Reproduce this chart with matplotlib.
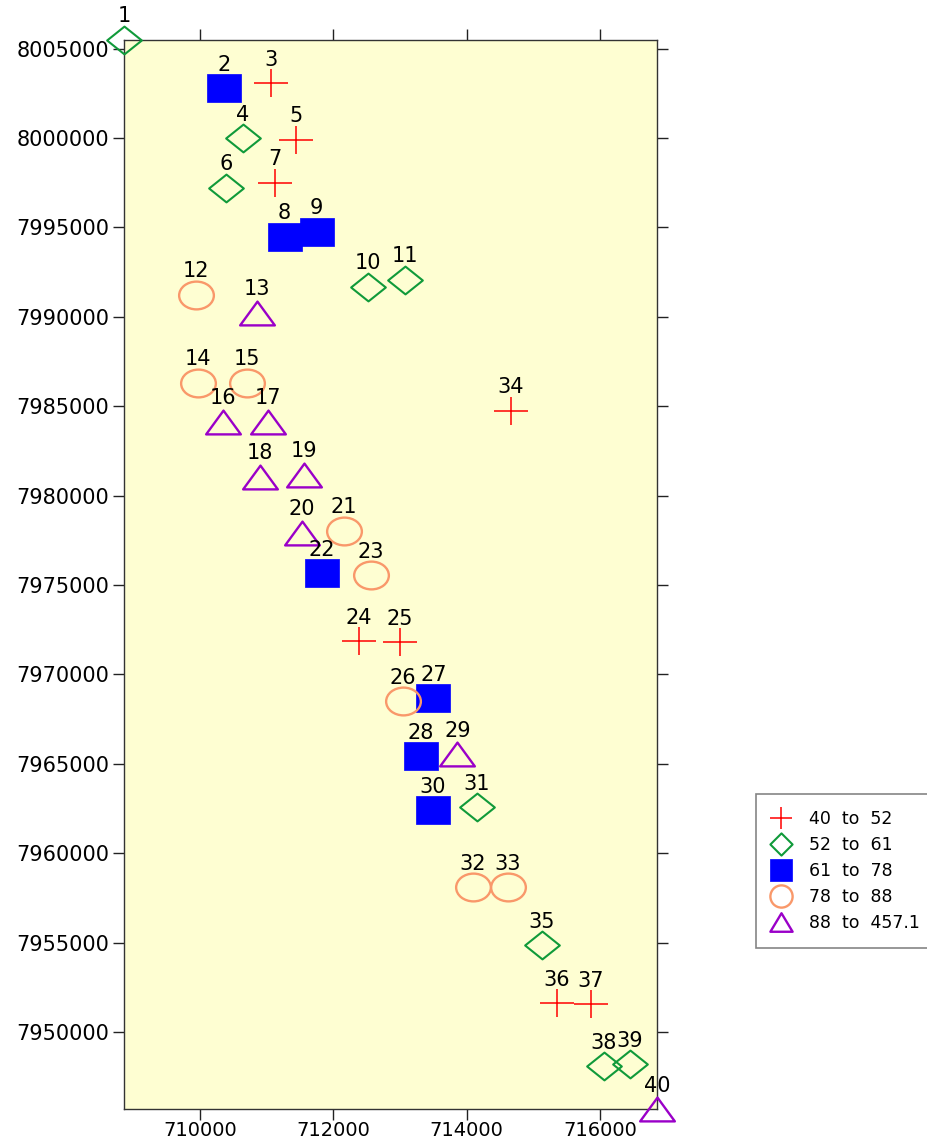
import matplotlib.pyplot as plt
import numpy as np
from matplotlib.path import Path
from matplotlib.transforms import Affine2D
from matplotlib.lines import Line2D

# Coordenadas de los puntos (UTM) y clase de cada uno
este = [708870, 710370, 711060, 710640, 711440, 710400, 711120, 711270, 711750, 712520,
        713070, 709940, 710850, 709970, 710700, 710350, 711020, 710900, 711560, 711530,
        712160, 711830, 712560, 712380, 713000, 713040, 713500, 713310, 713860, 713490,
        714150, 714090, 714610, 714660, 715120, 715350, 715860, 716050, 716440, 716850]
norte = [8005500, 8002800, 8003080, 8000010, 7999900, 7997220, 7997500, 7994480, 7994760, 7991690,
         7992080, 7991240, 7990230, 7986320, 7986320, 7984140, 7984140, 7981070, 7981180, 7977940,
         7978050, 7975650, 7975540, 7971850, 7971800, 7968500, 7968670, 7965430, 7965540, 7962410,
         7962580, 7958110, 7958110, 7984760, 7954870, 7951630, 7951570, 7948110, 7948220, 7945700]
clase = [1, 2, 0, 1, 0, 1, 0, 2, 2, 1,
         1, 3, 4, 3, 3, 4, 4, 4, 4, 4,
         3, 2, 3, 0, 0, 3, 2, 2, 4, 2,
         1, 3, 3, 0, 1, 0, 0, 1, 1, 4]
rangos = ['40  to  52', '52  to  61', '61  to  78', '78  to  88', '88  to  457.1']

este = np.array(este)
norte = np.array(norte)
clase = np.array(clase)


def marcador(tipo, sx=1.0):
    # formas de los simbolos, estiradas en x
    if tipo == 'cruz':
        p = Path([(-1, 0), (1, 0), (0, -1), (0, 1)],
                 [Path.MOVETO, Path.LINETO, Path.MOVETO, Path.LINETO])
    elif tipo == 'rombo':
        p = Path([(0, 1), (1, 0), (0, -1), (-1, 0), (0, 1)], closed=True)
    elif tipo == 'cuadrado':
        p = Path([(-1, -1), (1, -1), (1, 1), (-1, 1), (-1, -1)], closed=True)
    elif tipo == 'circulo':
        p = Path.unit_circle()
    else:
        p = Path([(0, 1), (1, -1), (-1, -1), (0, 1)], closed=True)
    return p.transformed(Affine2D().scale(sx, 1))


estilos = [
    dict(tipo='cruz', sx=1.25, mfc='none', mec='#ff0000', mew=1.1),
    dict(tipo='rombo', sx=1.25, mfc='none', mec='#109a3a', mew=1.5),
    dict(tipo='cuadrado', sx=1.23, mfc='#0000ff', mec='#0000ff', mew=0.5),
    dict(tipo='circulo', sx=1.25, mfc='none', mec='#f9986a', mew=1.7),
    dict(tipo='triangulo', sx=1.46, mfc='none', mec='#9a00c8', mew=1.7),
]
sx_leyenda = [1.0, 1.0, 1.0, 1.0, 1.2]

fig = plt.figure(figsize=(9.28, 11.44), dpi=100)
ax = fig.add_axes([0.134, 0.0306, 0.574, 0.9347])
ax.set_facecolor('#fefed2')

handles = []
for k, est in enumerate(estilos):
    sel = clase == k
    ax.plot(este[sel], norte[sel], linestyle='none',
            marker=marcador(est['tipo'], est['sx']), markersize=25,
            mfc=est['mfc'], mec=est['mec'], mew=est['mew'], clip_on=False, zorder=3)
    handles.append(Line2D([], [], linestyle='none',
                          marker=marcador(est['tipo'], sx_leyenda[k]), markersize=16,
                          mfc=est['mfc'], mec=est['mec'], mew=est['mew']))

for i in range(len(este)):
    ax.annotate(str(i + 1), (este[i], norte[i]), xytext=(0, 12.5), textcoords='offset points',
                ha='center', va='baseline', fontsize=15, annotation_clip=False, zorder=4)

ax.set_xlim(este.min(), este.max())
ax.set_ylim(norte.min(), norte.max())
xt = np.arange(710000, 716001, 2000)
yt = np.arange(7950000, 8005001, 5000)
ax.set_xticks(xt)
ax.set_xticklabels([str(v) for v in xt])
ax.set_yticks(yt)
ax.set_yticklabels([str(v) for v in yt])
ax.tick_params(direction='out', length=8, width=1, top=True, right=True,
               labelsize=15, pad=3, colors='#222222', labelcolor='black')
ax.tick_params(axis='x', pad=1, labelsize=14)
for s in ax.spines.values():
    s.set_color('#333333')
    s.set_linewidth(1.0)

leg = fig.legend(handles, rangos, loc='upper left', bbox_to_anchor=(756 / 928, 1 - 794 / 1144),
                 borderaxespad=0, fontsize=12.5, frameon=True, fancybox=False,
                 borderpad=0.95, handlelength=0.98, handletextpad=1.12, labelspacing=0.45)
leg.get_frame().set_edgecolor('#666666')
leg.get_frame().set_linewidth(1.2)

plt.savefig('out.png', dpi=100)
